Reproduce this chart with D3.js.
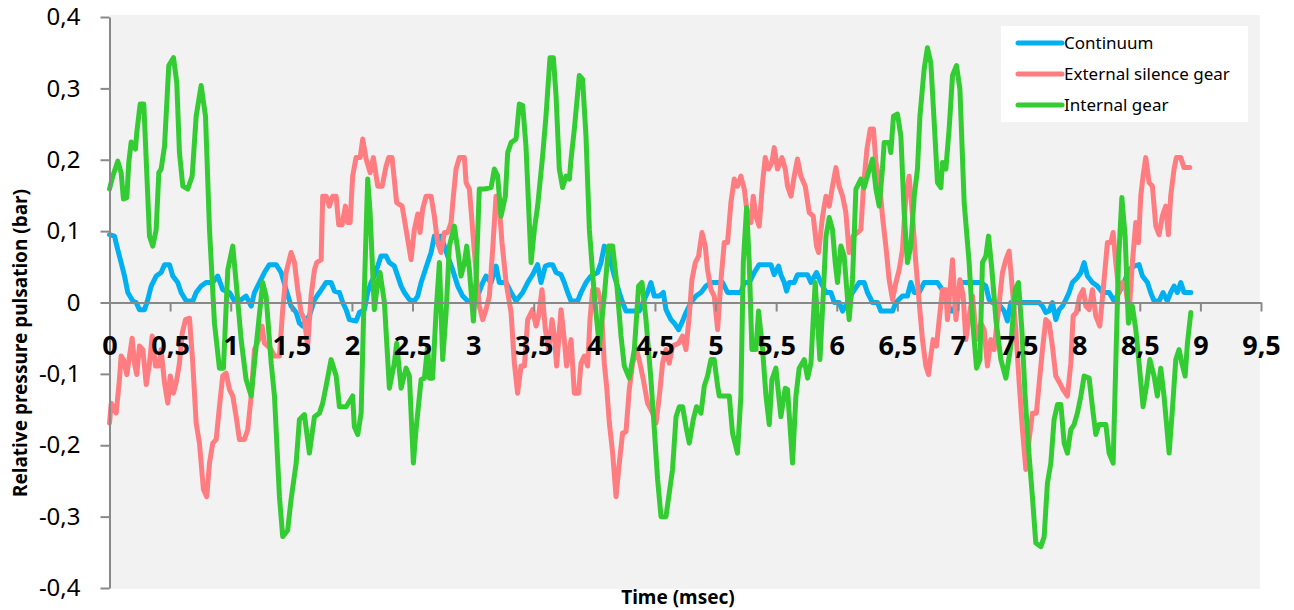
<!DOCTYPE html>
<html>
<head>
<meta charset="utf-8">
<script src="https://cdn.jsdelivr.net/npm/d3@7"></script>
<style>
  body { margin: 0; background: #ffffff; }
  svg text { font-family: "Noto Sans", "Open Sans", sans-serif; }
</style>
</head>
<body>
<div id="chart"></div>
<script>
// series names / colours (legend order = drawing order)
const seriesNames = ["Continuum", "External silence gear", "Internal gear"];
const seriesColors = ["#00b0f0", "#ff7c80", "#33cc33"];

const xTicks = [0, 0.5, 1, 1.5, 2, 2.5, 3, 3.5, 4, 4.5, 5, 5.5, 6, 6.5, 7, 7.5, 8, 8.5, 9, 9.5];
const yTicks = [-0.4, -0.3, -0.2, -0.1, 0, 0.1, 0.2, 0.3, 0.4];

// [time (msec), pressure (bar)]
const continuum = [
  [0,0.095],[0.041,0.093],[0.068,0.074],[0.096,0.056],[0.124,0.037],[0.151,0.014],[0.192,0.002],[0.220,0],
  [0.247,-0.010],[0.289,-0.010],[0.316,0.004],[0.344,0.023],[0.385,0.037],[0.426,0.042],[0.454,0.053],[0.495,0.053],
  [0.522,0.037],[0.563,0.028],[0.591,0.014],[0.633,0.002],[0.687,0.002],[0.715,0.014],[0.756,0.023],[0.797,0.028],
  [0.852,0.028],[0.893,0.037],[0.934,0.018],[0.990,0.014],[1.031,0.002],[1.072,0.002],[1.127,0.009],[1.169,-0.005],
  [1.196,0.014],[1.237,0.028],[1.278,0.042],[1.319,0.053],[1.375,0.053],[1.416,0.042],[1.457,0.018],[1.498,-0.005],
  [1.540,-0.014],[1.567,-0.029],[1.594,-0.033],[1.622,-0.024],[1.649,-0.019],[1.691,0.004],[1.732,0.014],[1.759,0.021],
  [1.787,0.028],[1.828,0.028],[1.856,0.016],[1.897,0.014],[1.924,0],[1.952,-0.010],[1.979,-0.024],[2.034,-0.026],
  [2.062,-0.014],[2.103,-0.010],[2.130,0.014],[2.158,0.028],[2.185,0.037],[2.213,0.051],[2.240,0.065],[2.282,0.065],
  [2.309,0.056],[2.350,0.051],[2.378,0.037],[2.406,0.023],[2.433,0.014],[2.474,0.004],[2.515,0.002],[2.543,0.009],
  [2.571,0.028],[2.598,0.042],[2.625,0.056],[2.653,0.070],[2.680,0.093],[2.707,0.084],[2.735,0.093],[2.763,0.079],
  [2.790,0.065],[2.831,0.046],[2.873,0.023],[2.914,0.009],[2.955,0.002],[2.996,0.002],[3.037,0.009],[3.079,0.028],
  [3.106,0.037],[3.148,0.028],[3.189,0.051],[3.216,0.028],[3.272,0.028],[3.313,0.014],[3.354,0.002],[3.409,0.014],
  [3.450,0.028],[3.491,0.039],[3.532,0.053],[3.560,0.028],[3.596,0.051],[3.629,0.053],[3.656,0.053],[3.684,0.042],
  [3.725,0.039],[3.752,0.028],[3.780,0.014],[3.808,0.002],[3.862,0.002],[3.890,0.014],[3.931,0.028],[3.972,0.037],
  [4.027,0.042],[4.055,0.056],[4.082,0.079],[4.109,0.074],[4.137,0.056],[4.165,0.037],[4.206,0.014],[4.233,0],
  [4.261,-0.012],[4.371,-0.012],[4.412,0.004],[4.439,0.014],[4.467,0.028],[4.495,0.009],[4.536,0.009],[4.569,0.014],
  [4.591,-0.010],[4.632,-0.024],[4.660,-0.029],[4.695,-0.038],[4.728,-0.026],[4.756,-0.014],[4.797,0],[4.838,0.009],
  [4.880,0.014],[4.921,0.023],[4.962,0.028],[5.058,0.028],[5.099,0.014],[5.209,0.014],[5.237,0.028],[5.278,0.028],
  [5.319,0.042],[5.360,0.053],[5.457,0.053],[5.484,0.039],[5.520,0.051],[5.539,0.039],[5.567,0.028],[5.586,0.016],
  [5.608,0.028],[5.649,0.028],[5.676,0.039],[5.759,0.039],[5.787,0.028],[5.833,0.042],[5.869,0.028],[5.911,0.014],
  [5.952,0.014],[5.979,0],[6.020,0],[6.048,-0.012],[6.089,0],[6.130,0.014],[6.185,0.028],[6.226,0.028],
  [6.253,0.014],[6.295,0],[6.336,0],[6.364,-0.012],[6.460,-0.012],[6.488,0],[6.542,0.009],[6.583,0.009],
  [6.611,0.028],[6.639,0.014],[6.680,0.014],[6.721,0.028],[6.790,0.028],[6.831,0.028],[6.886,0.014],[6.913,0],
  [6.941,-0.012],[6.968,-0.012],[6.996,0.014],[7.024,0.028],[7.189,0.028],[7.230,0.023],[7.257,0.004],[7.285,0],
  [7.326,0],[7.381,-0.012],[7.408,-0.026],[7.436,0],[7.670,0],[7.697,-0.005],[7.725,-0.014],[7.752,-0.012],
  [7.779,0],[7.807,-0.024],[7.835,-0.010],[7.862,-0.005],[7.890,0.004],[7.917,0.014],[7.944,0.028],[7.985,0.035],
  [8.014,0.042],[8.041,0.056],[8.068,0.037],[8.109,0.028],[8.150,0.023],[8.192,0.014],[8.247,0.014],[8.288,0.002],
  [8.329,0.014],[8.370,0.028],[8.412,0.046],[8.453,0.051],[8.494,0.053],[8.522,0.037],[8.563,0.028],[8.590,0.014],
  [8.618,0.002],[8.659,0.002],[8.692,0.014],[8.727,0.002],[8.755,0.014],[8.783,0.023],[8.810,0.014],[8.838,0.028],
  [8.865,0.014],[8.921,0.014]
];

const externalSilenceGear = [
  [0,-0.169],[0.014,-0.141],[0.055,-0.155],[0.082,-0.108],[0.096,-0.075],[0.115,-0.080],[0.143,-0.101],[0.165,-0.075],
  [0.187,-0.050],[0.206,-0.085],[0.225,-0.101],[0.247,-0.061],[0.275,-0.066],[0.303,-0.115],[0.330,-0.085],[0.352,-0.047],
  [0.379,-0.089],[0.407,-0.089],[0.426,-0.066],[0.454,-0.113],[0.481,-0.141],[0.501,-0.103],[0.528,-0.127],[0.555,-0.108],
  [0.577,-0.085],[0.600,-0.043],[0.627,-0.024],[0.660,-0.022],[0.687,-0.085],[0.715,-0.169],[0.742,-0.197],[0.775,-0.262],
  [0.802,-0.272],[0.825,-0.225],[0.852,-0.197],[0.880,-0.192],[0.907,-0.146],[0.934,-0.103],[0.962,-0.099],[0.990,-0.122],
  [1.017,-0.131],[1.045,-0.160],[1.072,-0.192],[1.113,-0.192],[1.141,-0.178],[1.169,-0.131],[1.196,-0.066],[1.231,-0.052],
  [1.259,-0.033],[1.278,-0.057],[1.305,-0.061],[1.334,-0.066],[1.361,-0.075],[1.402,-0.075],[1.429,-0.010],[1.457,0.042],
  [1.498,0.070],[1.526,0.056],[1.553,0.018],[1.581,-0.014],[1.608,-0.024],[1.635,-0.061],[1.663,0.009],[1.691,0.046],
  [1.710,0.056],[1.746,0.060],[1.759,0.149],[1.787,0.149],[1.814,0.135],[1.842,0.149],[1.870,0.149],[1.891,0.109],
  [1.919,0.109],[1.946,0.135],[1.965,0.112],[1.985,0.112],[2.006,0.177],[2.034,0.203],[2.068,0.203],[2.089,0.229],
  [2.117,0.201],[2.150,0.182],[2.177,0.203],[2.213,0.163],[2.249,0.163],[2.282,0.191],[2.303,0.203],[2.331,0.203],
  [2.369,0.140],[2.414,0.135],[2.447,0.102],[2.488,0.060],[2.515,0.102],[2.543,0.124],[2.562,0.098],[2.584,0.131],
  [2.612,0.149],[2.653,0.149],[2.680,0.121],[2.707,0.084],[2.735,0.070],[2.763,0.098],[2.790,0.098],[2.818,0.112],
  [2.837,0.149],[2.859,0.187],[2.886,0.203],[2.928,0.203],[2.942,0.168],[2.969,0.159],[2.996,0.102],[3.024,0.042],
  [3.051,-0.005],[3.079,-0.024],[3.106,-0.010],[3.134,0.009],[3.161,0.074],[3.189,0.149],[3.210,0.149],[3.238,0.084],
  [3.272,0.028],[3.313,-0.014],[3.340,-0.085],[3.367,-0.127],[3.395,-0.089],[3.423,-0.089],[3.450,-0.024],[3.491,-0.010],
  [3.519,-0.033],[3.540,-0.019],[3.568,0.018],[3.596,-0.038],[3.623,-0.066],[3.651,-0.024],[3.670,-0.047],[3.689,-0.089],
  [3.725,-0.010],[3.752,-0.052],[3.771,-0.089],[3.808,-0.052],[3.835,-0.127],[3.870,-0.127],[3.890,-0.085],[3.917,-0.075],
  [3.945,-0.089],[3.964,-0.024],[3.986,0.018],[4.027,0.018],[4.055,0],[4.082,-0.085],[4.101,-0.117],[4.124,-0.169],
  [4.151,-0.211],[4.179,-0.272],[4.206,-0.225],[4.233,-0.183],[4.261,-0.181],[4.288,-0.122],[4.316,-0.085],[4.348,-0.066],
  [4.376,-0.085],[4.404,-0.108],[4.439,-0.141],[4.481,-0.155],[4.509,-0.169],[4.536,-0.131],[4.563,-0.085],[4.591,-0.066],
  [4.618,-0.085],[4.645,-0.061],[4.695,-0.057],[4.728,-0.047],[4.756,-0.066],[4.783,-0.019],[4.805,0.032],[4.833,0.056],
  [4.860,0.065],[4.888,0.098],[4.915,0.079],[4.934,0.046],[4.962,0.018],[4.989,0.009],[5.017,-0.038],[5.045,0.032],
  [5.072,0.084],[5.099,0.084],[5.127,0.140],[5.154,0.173],[5.181,0.163],[5.209,0.177],[5.237,0.159],[5.264,0.121],
  [5.292,0.112],[5.311,0.149],[5.333,0.121],[5.360,0.107],[5.388,0.168],[5.410,0.203],[5.437,0.187],[5.465,0.196],
  [5.484,0.217],[5.511,0.187],[5.548,0.203],[5.575,0.187],[5.594,0.163],[5.622,0.149],[5.649,0.177],[5.676,0.201],
  [5.704,0.177],[5.740,0.163],[5.773,0.126],[5.806,0.121],[5.833,0.079],[5.850,0.070],[5.883,0.121],[5.911,0.149],
  [5.938,0.135],[5.965,0.163],[5.993,0.189],[6.020,0.163],[6.048,0.149],[6.075,0.126],[6.102,0.070],[6.135,0.093],
  [6.171,0.098],[6.199,0.102],[6.221,0.163],[6.249,0.215],[6.276,0.243],[6.303,0.243],[6.323,0.196],[6.350,0.173],
  [6.377,0.121],[6.405,0.079],[6.432,0.032],[6.460,0.004],[6.488,0.028],[6.515,0.046],[6.542,0.074],[6.570,0.149],
  [6.597,0.177],[6.625,0.121],[6.652,0.056],[6.680,0],[6.707,-0.052],[6.735,-0.089],[6.757,-0.101],[6.776,-0.075],
  [6.795,-0.052],[6.823,-0.061],[6.845,-0.024],[6.872,0.018],[6.900,0.018],[6.913,-0.024],[6.955,0.060],[6.983,-0.024],
  [7.016,0.032],[7.043,0.009],[7.065,-0.052],[7.092,-0.019],[7.120,0.009],[7.153,-0.052],[7.189,-0.029],[7.216,-0.038],
  [7.243,-0.089],[7.271,-0.052],[7.298,-0.066],[7.334,-0.010],[7.367,0.042],[7.395,0.060],[7.422,0.072],[7.449,0.018],
  [7.477,-0.038],[7.505,-0.113],[7.532,-0.178],[7.560,-0.234],[7.587,-0.192],[7.614,-0.155],[7.647,-0.155],[7.670,-0.113],
  [7.697,-0.066],[7.725,-0.024],[7.752,-0.029],[7.779,-0.061],[7.807,-0.103],[7.840,-0.113],[7.867,-0.122],[7.903,-0.131],
  [7.931,-0.085],[7.950,-0.019],[7.977,-0.014],[8.005,0.009],[8.033,0.018],[8.055,-0.005],[8.082,-0.010],[8.109,0.018],
  [8.137,-0.019],[8.170,-0.033],[8.198,0.018],[8.233,0.084],[8.261,0.084],[8.280,0.098],[8.302,0.056],[8.329,0.014],
  [8.357,0.028],[8.385,0.018],[8.412,-0.014],[8.439,0.056],[8.467,0.112],[8.489,0.084],[8.508,0.149],[8.527,0.177],
  [8.549,0.203],[8.577,0.168],[8.604,0.163],[8.632,0.107],[8.659,0.095],[8.686,0.121],[8.714,0.135],[8.736,0.095],
  [8.755,0.149],[8.783,0.187],[8.802,0.203],[8.838,0.203],[8.865,0.189],[8.912,0.189]
];

const internalGear = [
  [0,0.159],[0.027,0.177],[0.068,0.198],[0.096,0.182],[0.115,0.145],[0.143,0.147],[0.159,0.196],[0.179,0.225],
  [0.214,0.215],[0.225,0.238],[0.253,0.278],[0.283,0.278],[0.330,0.093],[0.357,0.079],[0.385,0.102],[0.407,0.182],
  [0.426,0.187],[0.454,0.219],[0.489,0.332],[0.528,0.343],[0.555,0.308],[0.577,0.210],[0.605,0.163],[0.646,0.159],
  [0.682,0.177],[0.715,0.261],[0.756,0.304],[0.792,0.261],[0.825,0.102],[0.866,-0.029],[0.907,-0.092],[0.940,-0.092],
  [0.976,0.046],[1.017,0.079],[1.045,0.028],[1.086,-0.052],[1.127,-0.108],[1.169,-0.131],[1.210,-0.061],[1.264,0.028],
  [1.292,0.009],[1.334,-0.085],[1.361,-0.131],[1.402,-0.272],[1.429,-0.328],[1.470,-0.319],[1.498,-0.276],[1.540,-0.225],
  [1.567,-0.164],[1.608,-0.157],[1.649,-0.211],[1.691,-0.160],[1.732,-0.155],[1.759,-0.141],[1.787,-0.117],[1.828,-0.080],
  [1.870,-0.103],[1.897,-0.146],[1.952,-0.146],[2.006,-0.131],[2.020,-0.174],[2.048,-0.185],[2.076,-0.155],[2.097,-0.014],
  [2.130,0.173],[2.150,0.126],[2.185,-0.010],[2.213,0.028],[2.232,0.042],[2.268,0],[2.309,-0.120],[2.350,-0.085],
  [2.369,-0.057],[2.406,-0.120],[2.447,-0.092],[2.474,-0.103],[2.507,-0.225],[2.529,-0.178],[2.571,-0.108],[2.598,-0.106],
  [2.625,-0.061],[2.639,-0.106],[2.666,-0.106],[2.694,-0.014],[2.722,0.056],[2.749,-0.080],[2.777,-0.014],[2.804,0.079],
  [2.845,0.107],[2.873,0.074],[2.900,0.037],[2.928,0.056],[2.947,0.079],[2.969,0.046],[3.002,-0.026],[3.024,0.032],
  [3.051,0.159],[3.093,0.159],[3.148,0.161],[3.175,0.187],[3.202,0.177],[3.230,0.121],[3.266,0.149],[3.285,0.210],
  [3.313,0.224],[3.354,0.229],[3.381,0.278],[3.409,0.276],[3.436,0.219],[3.478,0.056],[3.505,0.102],[3.532,0.135],
  [3.573,0.205],[3.601,0.261],[3.634,0.343],[3.662,0.343],[3.684,0.290],[3.711,0.187],[3.738,0.161],[3.766,0.177],
  [3.794,0.173],[3.808,0.201],[3.835,0.243],[3.876,0.318],[3.903,0.313],[3.931,0.233],[3.959,0.102],[4.000,0.009],
  [4.041,-0.061],[4.082,0.009],[4.118,0.079],[4.151,0.079],[4.184,0.028],[4.220,-0.047],[4.247,-0.089],[4.288,-0.106],
  [4.330,-0.066],[4.365,0.023],[4.393,0.028],[4.426,-0.024],[4.467,-0.108],[4.495,-0.178],[4.522,-0.248],[4.550,-0.300],
  [4.591,-0.300],[4.618,-0.267],[4.645,-0.234],[4.674,-0.160],[4.701,-0.146],[4.728,-0.146],[4.756,-0.174],[4.783,-0.197],
  [4.816,-0.164],[4.843,-0.146],[4.880,-0.155],[4.907,-0.117],[4.934,-0.103],[4.962,-0.080],[4.989,-0.080],[5.017,-0.117],
  [5.031,-0.131],[5.113,-0.131],[5.140,-0.183],[5.181,-0.211],[5.209,-0.131],[5.229,0.056],[5.256,0.133],[5.278,0.056],
  [5.300,-0.066],[5.333,-0.066],[5.355,-0.012],[5.388,-0.066],[5.416,-0.131],[5.443,-0.171],[5.465,-0.108],[5.498,-0.092],
  [5.539,-0.160],[5.575,-0.120],[5.594,-0.122],[5.635,-0.225],[5.663,-0.131],[5.690,-0.092],[5.732,-0.080],[5.759,-0.106],
  [5.787,-0.085],[5.822,0.028],[5.861,-0.080],[5.888,0.009],[5.911,0.093],[5.938,0.119],[5.965,0.102],[5.987,0.056],
  [6.006,0.028],[6.034,0.079],[6.061,0.065],[6.102,-0.024],[6.130,0.032],[6.158,0.159],[6.199,0.173],[6.226,0.161],
  [6.253,0.177],[6.295,0.201],[6.323,0.159],[6.350,0.135],[6.377,0.187],[6.391,0.224],[6.432,0.224],[6.446,0.210],
  [6.468,0.261],[6.501,0.264],[6.529,0.233],[6.556,0.126],[6.583,0.056],[6.611,0.079],[6.639,0.149],[6.666,0.187],
  [6.686,0.261],[6.721,0.327],[6.748,0.357],[6.776,0.336],[6.804,0.252],[6.831,0.168],[6.859,0.161],[6.872,0.196],
  [6.900,0.187],[6.927,0.243],[6.955,0.318],[6.988,0.332],[7.016,0.299],[7.051,0.140],[7.092,0.056],[7.120,-0.024],
  [7.153,-0.092],[7.181,-0.080],[7.202,0.056],[7.230,0.065],[7.252,0.093],[7.280,0.046],[7.313,-0.024],[7.354,-0.080],
  [7.395,-0.106],[7.436,-0.061],[7.472,0.018],[7.499,0.028],[7.527,-0.038],[7.554,-0.131],[7.581,-0.202],[7.614,-0.272],
  [7.642,-0.337],[7.684,-0.342],[7.711,-0.328],[7.738,-0.253],[7.766,-0.225],[7.793,-0.164],[7.821,-0.143],[7.849,-0.143],
  [7.876,-0.197],[7.903,-0.211],[7.931,-0.178],[7.958,-0.171],[7.985,-0.155],[8.014,-0.131],[8.041,-0.103],[8.082,-0.106],
  [8.109,-0.146],[8.137,-0.185],[8.164,-0.171],[8.220,-0.171],[8.247,-0.211],[8.280,-0.225],[8.302,-0.085],[8.324,0.056],
  [8.352,0.147],[8.379,0.093],[8.406,-0.029],[8.439,-0.005],[8.467,-0.038],[8.494,-0.085],[8.527,-0.146],[8.555,-0.117],
  [8.583,-0.080],[8.618,-0.103],[8.645,-0.131],[8.673,-0.092],[8.700,-0.131],[8.742,-0.211],[8.769,-0.150],[8.797,-0.080],
  [8.824,-0.066],[8.847,-0.085],[8.874,-0.103],[8.893,-0.057],[8.921,-0.014]
];

const seriesData = [continuum, externalSilenceGear, internalGear];

const width = 1294;
const height = 610;

const svg = d3.select("#chart").append("svg")
    .attr("width", width)
    .attr("height", height);

const x = d3.scaleLinear().domain([0, 9.5]).range([109.5, 1261]);
const y = d3.scaleLinear().domain([-0.4, 0.4]).range([588, 17]);

const commaFmt = d3.formatLocale({ decimal: ",", thousands: ".", grouping: [3], currency: ["", ""] });
const num = v => commaFmt.format("~g")(v).replace("\u2212", "-");

// plot area background
svg.append("rect")
    .attr("x", x(0))
    .attr("y", y(0.4) - 2)
    .attr("width", 1260 - x(0))
    .attr("height", y(-0.4) - y(0.4) + 3)
    .attr("fill", "#f2f2f2");

// series
const line = d3.line()
    .x(d => x(d[0]))
    .y(d => y(d[1]));

const series = svg.append("g");
seriesData.forEach((data, i) => {
    series.append("path")
        .datum(data)
        .attr("d", line)
        .attr("fill", "none")
        .attr("stroke", seriesColors[i])
        .attr("stroke-width", 5)
        .attr("stroke-linejoin", "round")
        .attr("stroke-linecap", "round");
});

// y axis
const yAxis = svg.append("g")
    .attr("transform", `translate(${x(0)},0)`)
    .call(d3.axisLeft(y).tickValues(yTicks).tickSize(9).tickSizeOuter(0).tickPadding(20).tickFormat(num));
yAxis.select(".domain").attr("stroke", "#898989").attr("stroke-width", 2);
yAxis.selectAll(".tick line").attr("stroke", "#898989").attr("stroke-width", 2);
yAxis.selectAll(".tick text")
    .attr("font-size", 24)
    .attr("fill", "#000");

// x axis on the zero line
const xAxis = svg.append("g")
    .attr("transform", `translate(0,${y(0)})`)
    .call(d3.axisBottom(x).tickValues(xTicks).tickSize(9).tickSizeOuter(0).tickPadding(24).tickFormat(num));
xAxis.select(".domain").attr("stroke", "#898989").attr("stroke-width", 2);
xAxis.selectAll(".tick line").attr("stroke", "#898989").attr("stroke-width", 2);
xAxis.selectAll(".tick text")
    .attr("font-size", 27)
    .attr("font-weight", "bold")
    .attr("fill", "#000");

// axis titles
svg.append("text")
    .attr("transform", "translate(27,343) rotate(-90)")
    .attr("text-anchor", "middle")
    .attr("font-size", 19)
    .attr("font-weight", "bold")
    .text("Relative pressure pulsation (bar)");

svg.append("text")
    .attr("x", 678)
    .attr("y", 604)
    .attr("text-anchor", "middle")
    .attr("font-size", 19)
    .attr("font-weight", "bold")
    .text("Time (msec)");

// legend
const legend = svg.append("g").attr("transform", "translate(1001,26)");
legend.append("rect")
    .attr("width", 247)
    .attr("height", 96)
    .attr("fill", "#ffffff");

seriesNames.forEach((name, i) => {
    const ly = 17 + i * 31;
    legend.append("line")
        .attr("x1", 17)
        .attr("x2", 61)
        .attr("y1", ly)
        .attr("y2", ly)
        .attr("stroke", seriesColors[i])
        .attr("stroke-width", 5)
        .attr("stroke-linecap", "round");
    legend.append("text")
        .attr("x", 63)
        .attr("y", ly + 6)
        .attr("font-size", 17)
        .attr("fill", "#000")
        .text(name);
});
</script>
</body>
</html>
